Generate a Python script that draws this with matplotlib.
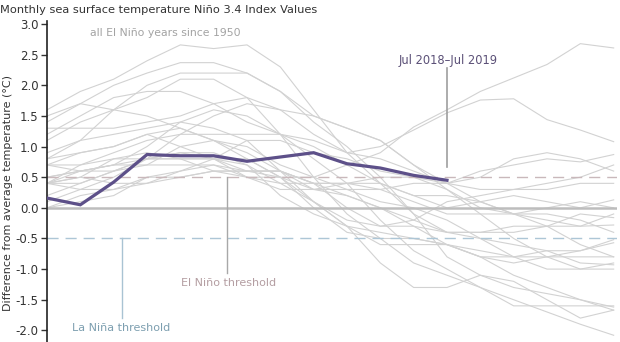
import matplotlib
matplotlib.use("Agg")
import matplotlib.pyplot as plt

# Months: Jul of El Niño year through Dec of following year
months = ["Jul", "Aug", "Sep", "Oct", "Nov", "Dec", "Jan", "Feb", "Mar",
          "Apr", "May", "Jun", "Jul", "Aug", "Sep", "Oct", "Nov", "Dec"]

# Gray lines: all El Niño years since 1950 (Niño 3.4 anomaly, °C)
y1951 = [0.7, 0.9, 1.0, 1.2, 1.0, 0.8, 0.5, 0.4, 0.4, 0.4, 0.4, 0.2, 0.0, 0.1, 0.2, 0.1, 0.0, 0.13]
y1953 = [0.7, 0.7, 0.8, 0.8, 0.8, 0.8, 0.8, 0.5, 0.0, -0.4, -0.5, -0.5, -0.6, -0.8, -0.9, -0.8, -0.7, -0.57]
y1957 = [1.3, 1.3, 1.3, 1.4, 1.5, 1.7, 1.8, 1.6, 1.2, 0.9, 0.8, 0.6, 0.4, 0.3, 0.3, 0.4, 0.5, 0.7]
y1958 = [0.4, 0.3, 0.3, 0.4, 0.5, 0.6, 0.6, 0.6, 0.4, 0.2, 0.0, -0.2, -0.4, -0.4, -0.3, -0.3, -0.3, -0.28]
y1963 = [0.9, 1.1, 1.2, 1.3, 1.4, 1.3, 1.1, 0.6, 0.1, -0.3, -0.6, -0.6, -0.6, -0.7, -0.8, -0.8, -0.8, -0.8]
y1965 = [1.2, 1.5, 1.8, 1.9, 1.9, 1.7, 1.4, 1.2, 1.0, 0.7, 0.4, 0.2, 0.2, 0.1, -0.1, -0.1, -0.2, -0.4]
y1968 = [0.4, 0.5, 0.4, 0.4, 0.6, 0.8, 1.1, 1.1, 0.9, 0.8, 0.6, 0.5, 0.4, 0.5, 0.8, 0.9, 0.8, 0.6]
y1969 = [0.4, 0.5, 0.8, 0.9, 0.8, 0.6, 0.5, 0.3, 0.3, 0.2, 0.0, -0.3, -0.6, -0.8, -0.8, -0.7, -0.9, -0.93]
y1972 = [1.1, 1.4, 1.6, 1.8, 2.1, 2.1, 1.8, 1.2, 0.5, -0.1, -0.5, -0.9, -1.1, -1.3, -1.5, -1.7, -1.9, -2.08]
y1976 = [0.2, 0.4, 0.6, 0.8, 0.9, 0.8, 0.6, 0.6, 0.3, 0.3, 0.3, 0.4, 0.4, 0.6, 0.7, 0.8, 0.75, 0.87]
y1977 = [0.4, 0.6, 0.7, 0.8, 0.8, 0.8, 0.7, 0.4, 0.1, -0.2, -0.3, -0.3, -0.4, -0.4, -0.4, -0.3, -0.1, -0.16]
y1979 = [0.0, 0.2, 0.3, 0.5, 0.5, 0.6, 0.6, 0.5, 0.3, 0.4, 0.5, 0.5, 0.3, 0.0, -0.1, 0.0, 0.1, 0.0]
y1982 = [0.8, 1.1, 1.6, 2.0, 2.2, 2.2, 2.2, 1.9, 1.5, 1.3, 1.1, 0.7, 0.3, -0.1, -0.5, -0.8, -1.0, -0.9]
y1986 = [0.4, 0.7, 0.9, 1.1, 1.2, 1.2, 1.2, 1.2, 1.1, 0.9, 1.0, 1.27, 1.55, 1.76, 1.78, 1.44, 1.27, 1.08]
y1987 = [1.5, 1.7, 1.6, 1.5, 1.3, 1.1, 0.8, 0.5, 0.1, -0.3, -0.9, -1.3, -1.3, -1.1, -1.2, -1.5, -1.8, -1.67]
y1991 = [0.7, 0.6, 0.6, 0.8, 1.2, 1.5, 1.7, 1.6, 1.5, 1.3, 1.1, 0.7, 0.4, 0.1, -0.1, -0.2, -0.3, -0.1]
y1994 = [0.4, 0.4, 0.6, 0.7, 1.0, 1.1, 1.0, 0.7, 0.5, 0.3, 0.1, 0.0, -0.2, -0.5, -0.8, -1.0, -1.0, -1.0]
y1997 = [1.4, 1.7, 2.0, 2.2, 2.37, 2.37, 2.2, 1.9, 1.4, 1.0, 0.5, -0.1, -0.8, -1.1, -1.3, -1.4, -1.5, -1.62]
y2002 = [0.8, 0.9, 1.0, 1.2, 1.3, 1.1, 0.9, 0.6, 0.4, 0.0, -0.3, -0.2, 0.1, 0.2, 0.3, 0.3, 0.4, 0.4]
y2004 = [0.5, 0.6, 0.7, 0.7, 0.7, 0.7, 0.6, 0.6, 0.4, 0.4, 0.3, 0.1, -0.1, -0.1, -0.1, -0.3, -0.6, -0.8]
y2006 = [0.1, 0.3, 0.5, 0.8, 0.9, 0.9, 0.7, 0.2, -0.1, -0.3, -0.4, -0.5, -0.6, -0.8, -1.1, -1.3, -1.5, -1.67]
y2009 = [0.5, 0.6, 0.7, 1.0, 1.4, 1.6, 1.5, 1.2, 0.8, 0.4, -0.2, -0.7, -1.0, -1.3, -1.6, -1.6, -1.6, -1.6]
y2014 = [0.0, 0.1, 0.2, 0.5, 0.6, 0.7, 0.5, 0.5, 0.5, 0.7, 0.9, 1.32, 1.6, 1.9, 2.12, 2.34, 2.68, 2.61]
y2015 = [1.6, 1.9, 2.1, 2.4, 2.66, 2.6, 2.66, 2.3, 1.6, 0.9, 0.4, -0.1, -0.4, -0.5, -0.6, -0.7, -0.7, -0.52]

gray_years = [y1951, y1953, y1957, y1958, y1963, y1965, y1968, y1969, y1972,
              y1976, y1977, y1979, y1982, y1986, y1987, y1991, y1994, y1997,
              y2002, y2004, y2006, y2009, y2014, y2015]

# Jul 2018 - Jul 2019
current = [0.16, 0.05, 0.42, 0.87, 0.85, 0.85, 0.76, 0.83, 0.90, 0.72, 0.65, 0.53, 0.45]

el_nino_threshold = 0.5
la_nina_threshold = -0.5
yticks = [-2.0, -1.5, -1.0, -0.5, 0.0, 0.5, 1.0, 1.5, 2.0, 2.5, 3.0]

plt.rcParams['font.family'] = ['DejaVu Sans']

fig = plt.figure(figsize=(6.2, 3.42), dpi=100)
ax = fig.add_axes([47 / 620, 0.0, (617 - 47) / 620, 1 - 21 / 342])
x = list(range(len(months)))

for ys in gray_years:
    ax.plot(x, ys, color="#d2d2d2", lw=0.8, zorder=1, solid_joinstyle="miter")

ax.axhline(0, color="#bdbdbd", lw=1.8, zorder=2)
ax.axhline(el_nino_threshold, color="#c9b8bb", lw=1.0, ls=(0, (8, 5)), zorder=2)
ax.axhline(la_nina_threshold, color="#adc6d6", lw=1.0, ls=(0, (8, 5)), zorder=2)

ax.plot(x[:len(current)], current, color="#5d5089", lw=2.3, zorder=4,
        solid_joinstyle="miter")

ax.set_xlim(0, 17.1)
ax.set_ylim(-2.19, 3.05)
ax.set_xticks([])
ax.set_yticks(yticks)
ax.set_yticklabels([f"{v:.1f}" for v in yticks], color="#333333", fontsize=8.5)
ax.tick_params(axis="y", length=4, width=1, color="#333333", pad=2)
for s in ["top", "right", "bottom"]:
    ax.spines[s].set_visible(False)
ax.spines["left"].set_color("#222222")
ax.spines["left"].set_linewidth(1.2)

fig.text(8 / 620, 1 - 193 / 342, "Difference from average temperature (°C)",
         rotation=90, fontsize=8.0, color="#333333", ha="center", va="center")

fig.text(0.0, 1 - 10 / 342, "Monthly sea surface temperature Niño 3.4 Index Values",
         fontsize=8.2, color="#333333", ha="left", va="center")

fig.text(165 / 620, 1 - 33 / 342, "all El Niño years since 1950",
         ha="center", va="center", fontsize=7.8, color="#a3a3a3")

# Annotation for current year
ax.text(12.03, 2.4, "Jul 2018–Jul 2019", ha="center", va="center",
        fontsize=8.3, color="#5b5077")
ax.plot([12.0, 12.0], [0.67, 2.28], color="#9e9e9e", lw=1.2, zorder=3)

# El Niño threshold label
ax.plot([5.4, 5.4], [el_nino_threshold, -1.06], color="#a8a8a8", lw=1.0, zorder=3)
ax.text(5.45, -1.22, "El Niño threshold", ha="center", va="center",
        fontsize=8, color="#b49ea2")

# La Niña threshold label
ax.plot([2.25, 2.25], [la_nina_threshold, -1.8], color="#a9c3d3", lw=1.0, zorder=3)
ax.text(2.22, -1.96, "La Niña threshold", ha="center", va="center",
        fontsize=8, color="#7d9fb0")

fig.savefig("out.png", dpi=100)
